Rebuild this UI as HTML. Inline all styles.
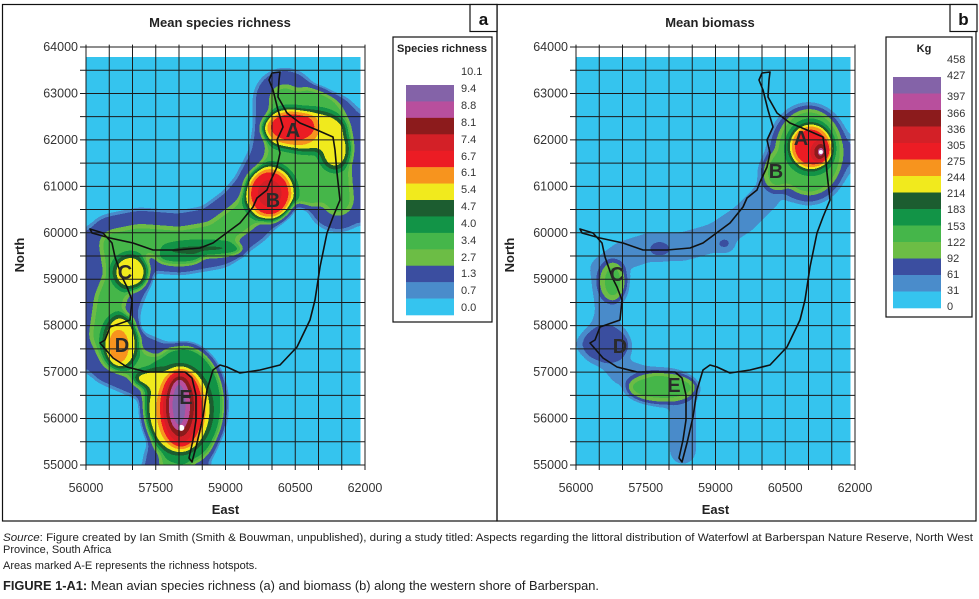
<!DOCTYPE html>
<html><head><meta charset="utf-8"><style>
html,body{margin:0;padding:0;background:#fff;}
svg{display:block;font-family:"Liberation Sans",sans-serif;}
</style></head><body>
<svg id="fig" width="979" height="599" viewBox="0 0 979 599" xmlns="http://www.w3.org/2000/svg">
<defs id="defs"></defs>
<rect x="2.5" y="4.5" width="494.5" height="516.5" fill="none" stroke="#111" stroke-width="1.2"/>
<rect x="497" y="4.5" width="479" height="516.5" fill="none" stroke="#111" stroke-width="1.2"/>
<g id="pa"></g>
<g id="pb"></g>
<g font-size="11" fill="#222">
<text x="3" y="541" textLength="970" lengthAdjust="spacingAndGlyphs"><tspan font-style="italic">Source</tspan>: Figure created by Ian Smith (Smith &amp; Bouwman, unpublished), during a study titled: Aspects regarding the littoral distribution of Waterfowl at Barberspan Nature Reserve, North West</text>
<text x="3" y="553">Province, South Africa</text>
<text x="3" y="569">Areas marked A-E represents the richness hotspots.</text>
<text x="3" y="590" font-size="12.5" textLength="596" lengthAdjust="spacingAndGlyphs"><tspan font-weight="bold">FIGURE 1-A1:</tspan> Mean avian species richness (a) and biomass (b) along the western shore of Barberspan.</text>
</g>
</svg>
<script>
// ---------- data ----------
const richLevels=[0,0.7,1.3,2.7,3.4,4.0,4.7,5.4,6.1,6.7,7.4,8.1,8.8,9.4,10.1];
const richLabels=["10.1","9.4","8.8","8.1","7.4","6.7","6.1","5.4","4.7","4.0","3.4","2.7","1.3","0.7","0.0"];
const bioLevels=[0,31,61,92,122,153,183,214,244,275,305,336,366,397,427,458];
const bioLabels=["458","427","397","366","336","305","275","244","214","183","153","122","92","61","31","0"];
const bandColors=["#35c4ef","#4a8ccb","#3b4ea0","#6cbd45","#45b64a","#129447","#1c5d30","#f1ea1d","#f7941e","#ec1c24","#d32027","#8c1b1c","#b84f9d","#8463a8","#8463a8"];
const xTicks=[56000,57500,59000,60500,62000];
const yTicks=[55000,56000,57000,58000,59000,60000,61000,62000,63000,64000];

// richness field (panel a)
const richCorrEast=[57914,58129,58021,57376,56624,56409,56516,56731,56624,57161,58021,58774,59419,59784,60171,60279,60279,60601,61246,61354,61418];
const richCorrNorth=[55065,55538,56830,57046,57369,57799,58553,59091,59737,59845,59780,59909,60383,60814,61567,62213,62859,62428,62321,61459,60706];
const richCorrValue=3.6;
const richBaseValue=1.8;
const richEast=[60800,58100,58500,58000,61350,60800,60400,60450,59950,59950,59950,56960,56750,56700,57500,58000,58050,58030,58000];
const richNorth=[61850,56300,59650,59450,61800,62200,62250,62300,60850,60850,60850,59150,57660,57550,56850,56200,56200,56250,56300];
const richValue=[3.7,4.3,4.8,4.4,5.7,5.8,6.4,7.0,5.8,7.0,7.8,5.7,5.7,6.4,5.8,5.8,7.2,8.3,9.6];
const richRx=[950,900,900,500,330,800,620,500,560,470,260,400,400,240,500,700,480,330,230];
const richRy=[1300,1300,170,150,450,450,420,330,620,520,300,400,600,400,220,950,850,720,560];

// biomass field (panel b)
const bioCorrEast=[56600,57000,57600,58300,59000,59600,60100,60400];
const bioCorrNorth=[59200,59500,59700,59700,59900,60300,60800,61400];
const bioCorr2East=[56600,56700,56500,57000,57900,58300,58300];
const bioCorr2North=[59200,58300,57600,57000,56700,56400,55300];
const bioCorrValue=45;
const bioBaseValue=20;
const bioEast=[61000,61015,57800,59200,56640,61050,60315,56790,57850,57780,61266];
const bioNorth=[61700,61740,59650,59750,57600,61850,61310,58950,56670,56770,61740];
const bioValue=[75,150,70,70,75,290,125,125,130,160,380];
const bioRx=[900,680,250,180,550,450,320,300,760,140,160];
const bioRy=[1100,880,180,140,420,480,420,440,340,100,200];

const letters=["A","B","C","D","E"];
const richLetE=[60451,60021,56839,56774,58150], richLetN=[62213,60706,59156,57584,56465];
const bioLetE=[60838,60300,56882,56946,58107], bioLetN=[62041,61330,59113,57563,56723];

// shoreline geometry (panel-local pixel map trace)
const shore=[[272,73],[280,72],[279,80],[278,97],[287,113],[300,123],[317,130],[333,137],[335,150],[337,173],[340,200],[333,217],[327,233],[320,267],[315,300],[310,320],[297,347],[280,365],[260,370],[240,373],[227,367],[220,365],[213,370],[207,390],[203,417],[197,443],[192,462],[189,458],[193,440],[196,420],[196,395],[192,378],[185,372],[165,372],[147,372],[127,367],[113,358],[100,343],[105,340],[110,327],[130,320],[132,300],[127,287],[122,277],[115,257],[112,243],[103,233],[90,229],[92,233],[110,238],[133,243],[153,250],[177,250],[200,248],[213,243],[240,223],[253,207],[257,198],[267,190],[270,182],[277,167],[280,153],[277,140],[283,127],[278,110],[273,90],[269,80],[272,73]];

// ---------- drawing ----------
const NS="http://www.w3.org/2000/svg";
function mk(tag,attrs,parent){const e=document.createElementNS(NS,tag);for(const k in attrs)e.setAttribute(k,attrs[k]);parent.appendChild(e);return e;}
const defs=document.getElementById('defs');

function buildFilter(id,levels,max){
  const f=mk('filter',{id:id,x:0,y:0,width:1,height:1,'color-interpolation-filters':'sRGB'},defs);
  mk('feGaussianBlur',{stdDeviation:3.8,edgeMode:'duplicate'},f);
  const ct=mk('feComponentTransfer',{},f);
  const R=[],G=[],B=[];
  for(let i=0;i<256;i++){
    const v=i/255*max;let b=0;
    for(let k=0;k<levels.length-1;k++){if(v>=levels[k])b=k;}
    const c=bandColors[Math.min(b,bandColors.length-1)];
    R.push((parseInt(c.substr(1,2),16)/255).toFixed(3));
    G.push((parseInt(c.substr(3,2),16)/255).toFixed(3));
    B.push((parseInt(c.substr(5,2),16)/255).toFixed(3));
  }
  mk('feFuncR',{type:'discrete',tableValues:R.join(' ')},ct);
  mk('feFuncG',{type:'discrete',tableValues:G.join(' ')},ct);
  mk('feFuncB',{type:'discrete',tableValues:B.join(' ')},ct);
  mk('feFuncA',{type:'table',tableValues:'1 1'},ct);
}

function panel(gid,x0,opt){
  const g=document.getElementById(gid);
  const px=e=>x0+(e-56000)/6000*279;
  const py=n=>47+(64000-n)/9000*418;
  const sx=d=>d/6000*279, sy=d=>d/9000*418;
  const gray=v=>{const c=Math.round(Math.min(1,v/opt.max)*255);return `rgb(${c},${c},${c})`;};
  buildFilter(gid+'f',opt.levels,opt.max);
  const field=mk('g',{filter:`url(#${gid}f)`},g);
  
  
  mk('rect',{x:px(56000),y:py(63780),width:px(61900)-px(56000),height:py(55000)-py(63780),fill:'#000'},field);
  [[opt.baseV,opt.baseExtra],[opt.corrV,0]].forEach(([val,extra])=>{
    opt.corr.forEach(c=>{
      const pts=c.e.map((e,i)=>px(e)+','+py(c.n[i])).join(' ');
      const pl=mk('polyline',{points:pts,fill:'none',stroke:gray(val),'stroke-width':sx(c.w+extra),'stroke-linejoin':'round','stroke-linecap':'round'},field);
      
      
    });
  });
  const idx=opt.E.map((_,i)=>i).sort((a,b)=>opt.V[a]-opt.V[b]);
  idx.forEach(i=>{
    const el=mk('ellipse',{cx:px(opt.E[i]),cy:py(opt.N[i]),rx:sx(opt.RX[i]),ry:sy(opt.RY[i]),fill:gray(opt.V[i])},field);
    
    
  });
  if(opt.white){const w=mk('circle',{cx:px(opt.white[0]),cy:py(opt.white[1]),r:opt.white[2],fill:'#fff'},g);}
  const grid=mk('g',{stroke:'#1b1b1b','stroke-width':1},g);
  
  
  for(let e=56000;e<=62000;e+=500){mk('line',{x1:px(e),x2:px(e),y1:py(64050),y2:py(55000)+5},grid);}
  for(let n=55000;n<=64000;n+=500){mk('line',{x1:px(56000)-6,x2:px(62000),y1:py(n),y2:py(n)},grid);}
  const sl=mk('polyline',{points:shore.map(p=>(p[0]-86+x0)+','+p[1]).join(' '),fill:'none',stroke:'#111','stroke-width':1.6,'stroke-linejoin':'round'},g);
  
  
  letters.forEach((L,i)=>{
    const t=mk('text',{x:px(opt.LE[i]),y:py(opt.LN[i])+7,'font-size':20,'font-weight':'bold','text-anchor':'middle',fill:'#2a2a2a'},g);
    t.textContent=L;
    
    
  });
  const ax=mk('g',{'font-size':12.5,fill:'#333'},g);
  
  
  yTicks.forEach(n=>{const t=mk('text',{x:px(56000)-8,y:py(n)+4,'text-anchor':'end'},ax);t.textContent=n;});
  xTicks.forEach(e=>{const t=mk('text',{x:px(e),y:492,'text-anchor':'middle'},ax);t.textContent=e;});
  const xt=mk('text',{x:px(59000),y:514,'text-anchor':'middle','font-size':13,'font-weight':'bold',fill:'#222'},g);xt.textContent='East';
  
  const yt=mk('text',{x:0,y:0,transform:`translate(${x0-62},255) rotate(-90)`,'text-anchor':'middle','font-size':13,'font-weight':'bold',fill:'#222'},g);yt.textContent='North';
  
  const tt=mk('text',{x:x0+134,y:27,'text-anchor':'middle','font-size':13,'font-weight':'bold',fill:'#222'},g);tt.textContent=opt.title;
  
  const lb=mk('rect',{x:opt.lbx,y:4.5,width:opt.lbw,height:27,fill:'#fff',stroke:'#111','stroke-width':1.2},g);
  
  const lt=mk('text',{x:opt.lbx+opt.lbw/2,y:25,'text-anchor':'middle','font-size':17,'font-weight':'bold',fill:'#111'},g);lt.textContent=opt.letter;
  
  const lg=mk('g',{},g);
  
  mk('rect',{x:opt.L.x,y:opt.L.y,width:opt.L.w,height:opt.L.h,fill:'#fff',stroke:'#111','stroke-width':1.2},lg);
  const lgT=mk('text',{x:opt.L.tx,y:opt.L.y+15,'text-anchor':'middle','font-size':opt.L.tfs,'font-weight':'bold',fill:'#222'},lg);lgT.textContent=opt.L.title;
  
  const nsw=14, h=(opt.L.s1-opt.L.s0)/nsw;
  for(let k=0;k<nsw;k++){
    const r=mk('rect',{x:opt.L.sx,y:opt.L.s0+k*h,width:48,height:h+0.3,fill:bandColors[13-k]},lg);
    
  }
  opt.labels.forEach((s,i)=>{
    const t=mk('text',{x:opt.L.lx,y:opt.L.ly[i]+4,'font-size':11,fill:'#333'},lg);t.textContent=s;
    
  });
}
const richLy=[71,88,105,122,139,156,172,189,206,223,240,257,273,290,307];
const bioLy=[59,75,96,113,129,145,161,177,193,209,226,242,258,274,290,306];
panel('pa',86,{max:10.1,levels:richLevels,corrV:richCorrValue,baseV:richBaseValue,baseExtra:650,
  corr:[{e:richCorrEast,n:richCorrNorth,w:700}],
  E:richEast,N:richNorth,V:richValue,RX:richRx,RY:richRy,white:[58050,55800,3],
  LE:richLetE,LN:richLetN,title:'Mean species richness',letter:'a',lbx:470,lbw:27,
  labels:richLabels,
  L:{x:393,y:37,w:99,h:285,tx:442,tfs:11,title:'Species richness',sx:406,s0:85,s1:315,lx:461,ly:richLy}});
panel('pb',576,{max:458,levels:bioLevels,corrV:bioCorrValue,baseV:bioBaseValue,baseExtra:500,
  corr:[{e:bioCorrEast,n:bioCorrNorth,w:600},{e:bioCorr2East,n:bioCorr2North,w:550}],
  E:bioEast,N:bioNorth,V:bioValue,RX:bioRx,RY:bioRy,white:[61266,61740,2],
  LE:bioLetE,LN:bioLetN,title:'Mean biomass',letter:'b',lbx:950,lbw:27,
  labels:bioLabels,
  L:{x:886,y:37,w:86,h:280,tx:924,tfs:11,title:'Kg',sx:893,s0:77,s1:308,lx:947,ly:bioLy}});
</script>
</body></html>
